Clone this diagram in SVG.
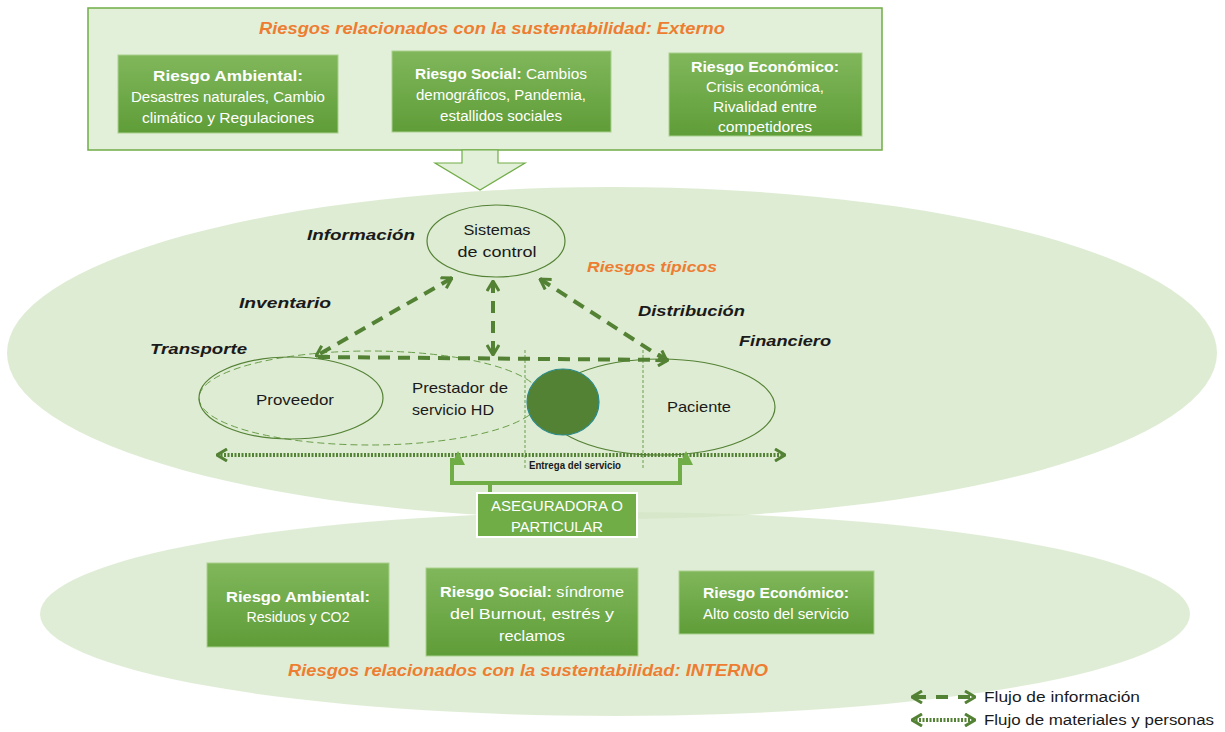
<svg xmlns="http://www.w3.org/2000/svg" width="1225" height="732" viewBox="0 0 1225 732">
<style>
text{font-family:"Liberation Sans",Arial,sans-serif}
.title{font-size:16px;font-weight:bold;font-style:italic;fill:#ed7d31}
.bt{font-size:14px;fill:#fff;text-anchor:middle}
.bb{font-weight:bold}
.lbl{font-size:15px;font-weight:bold;font-style:italic;fill:#1a1a1a}
.nt{font-size:15px;fill:#1a1a1a;text-anchor:middle}
.box{fill:url(#g);stroke:#a9d08e;stroke-width:1}
.info{fill:none;stroke:#548235;stroke-width:4;stroke-dasharray:12 8}
.mat{fill:none;stroke:#548235;stroke-width:4;stroke-dasharray:2 1.5}
.ring{fill:none;stroke:#548235;stroke-width:1.2}
</style>
<defs>
<linearGradient id="g" x1="0" y1="0" x2="0" y2="1">
<stop offset="0" stop-color="#80b75b"/>
<stop offset="1" stop-color="#5f9d38"/>
</linearGradient>
<marker id="ch" viewBox="0 0 12 14" refX="11" refY="7" markerWidth="12" markerHeight="14" markerUnits="userSpaceOnUse" orient="auto-start-reverse">
<path d="M1,1 L11,7 L1,13" fill="none" stroke="#548235" stroke-width="3"/>
</marker>
<marker id="up" viewBox="0 0 14 14" refX="7" refY="1" markerWidth="14" markerHeight="14" markerUnits="userSpaceOnUse" orient="auto">
<path d="M0,0 L14,7 L0,14 Z" fill="#70ad47"/>
</marker>
</defs>
<rect width="1225" height="732" fill="#fff"/>

<g id="externo">
<rect x="88" y="8" width="794" height="142" fill="#e2efd9" stroke="#70ad47" stroke-width="1.5"/>
<text class="title" x="492" y="34" text-anchor="middle" textLength="466" lengthAdjust="spacingAndGlyphs">Riesgos relacionados con la sustentabilidad: Externo</text>
</g>
<g id="ext-ambiental">
<rect class="box" x="118" y="55" width="220" height="78"/>
<text class="bt bb" x="228" y="81" textLength="150" lengthAdjust="spacingAndGlyphs">Riesgo Ambiental:</text>
<text class="bt" x="228" y="102" textLength="194" lengthAdjust="spacingAndGlyphs">Desastres naturales, Cambio</text>
<text class="bt" x="228" y="123" textLength="172" lengthAdjust="spacingAndGlyphs">climático y Regulaciones</text>
</g>
<g id="ext-social">
<rect class="box" x="392" y="51" width="219" height="81"/>
<text class="bt" x="501" y="79" textLength="172" lengthAdjust="spacingAndGlyphs"><tspan class="bb">Riesgo Social:</tspan> Cambios</text>
<text class="bt" x="501" y="100" textLength="170" lengthAdjust="spacingAndGlyphs">demográficos, Pandemia,</text>
<text class="bt" x="501" y="121" textLength="122" lengthAdjust="spacingAndGlyphs">estallidos sociales</text>
</g>
<g id="ext-economico">
<rect class="box" x="669" y="53" width="193" height="83"/>
<text class="bt bb" x="765" y="72" textLength="148" lengthAdjust="spacingAndGlyphs">Riesgo Económico:</text>
<text class="bt" x="765" y="92" textLength="118" lengthAdjust="spacingAndGlyphs">Crisis económica,</text>
<text class="bt" x="765" y="112" textLength="104" lengthAdjust="spacingAndGlyphs">Rivalidad entre</text>
<text class="bt" x="765" y="132" textLength="94" lengthAdjust="spacingAndGlyphs">competidores</text>
</g>
<g id="down-arrow">
<path d="M462,150 L498,150 L498,163 L525,163 L480,190 L435,163 L462,163 Z" fill="#e2efd9" stroke="#70ad47" stroke-width="1.2"/>
</g>

<g id="interno-ellipse">
<ellipse cx="615" cy="614" rx="575" ry="102" fill="#d3e6c4" fill-opacity="0.7"/>
</g>
<g id="tipicos-ellipse">
<ellipse cx="612" cy="353" rx="605" ry="166" fill="#d3e6c4" fill-opacity="0.75"/>
</g>

<g id="labels">
<text class="lbl" x="307" y="240" textLength="108" lengthAdjust="spacingAndGlyphs">Información</text>
<text class="lbl" x="239" y="308" textLength="92" lengthAdjust="spacingAndGlyphs">Inventario</text>
<text class="lbl" x="150" y="354" textLength="97" lengthAdjust="spacingAndGlyphs">Transporte</text>
<text class="lbl" x="638" y="316" textLength="107" lengthAdjust="spacingAndGlyphs">Distribución</text>
<text class="lbl" x="739" y="346" textLength="92" lengthAdjust="spacingAndGlyphs">Financiero</text>
<text class="lbl" x="587" y="272" style="fill:#ed7d31" textLength="130" lengthAdjust="spacingAndGlyphs">Riesgos típicos</text>
</g>

<g id="sistemas">
<ellipse cx="496" cy="241" rx="69" ry="36" class="ring" fill="none"/>
<text class="nt" x="497" y="235" textLength="67" lengthAdjust="spacingAndGlyphs">Sistemas</text>
<text class="nt" x="497" y="257" textLength="79" lengthAdjust="spacingAndGlyphs">de control</text>
</g>
<g id="prestador">
<ellipse cx="370" cy="398" rx="171" ry="47" fill="none" stroke="#6a9e4a" stroke-width="1" stroke-dasharray="7 4"/>
<text class="nt" x="460" y="393" textLength="96" lengthAdjust="spacingAndGlyphs">Prestador de</text>
<text class="nt" x="453" y="415" textLength="82" lengthAdjust="spacingAndGlyphs">servicio HD</text>
</g>
<g id="proveedor">
<ellipse cx="291" cy="398" rx="92" ry="41" class="ring"/>
<text class="nt" x="295" y="405" textLength="78" lengthAdjust="spacingAndGlyphs">Proveedor</text>
</g>
<g id="paciente">
<ellipse cx="660" cy="407" rx="115" ry="48" class="ring"/>
<text class="nt" x="699" y="412" textLength="64" lengthAdjust="spacingAndGlyphs">Paciente</text>
</g>
<g id="entrega">
<line x1="525" y1="350" x2="525" y2="470" stroke="#6a9e4a" stroke-width="1" stroke-dasharray="3 2"/>
<line x1="643" y1="350" x2="643" y2="470" stroke="#6a9e4a" stroke-width="1" stroke-dasharray="3 2"/>
<ellipse cx="563" cy="402" rx="36" ry="33" fill="#548235" stroke="#2a8a8a" stroke-width="1.2"/>
<text x="575" y="469" text-anchor="middle" font-size="10" font-weight="bold" fill="#1a1a1a" textLength="92" lengthAdjust="spacingAndGlyphs">Entrega del servicio</text>
</g>

<g id="connectors">
<line class="info" x1="452" y1="278" x2="316" y2="356" marker-start="url(#ch)" marker-end="url(#ch)"/>
<line class="info" x1="493" y1="281" x2="493" y2="355" marker-start="url(#ch)" marker-end="url(#ch)"/>
<line class="info" x1="540" y1="279" x2="667" y2="361" marker-start="url(#ch)" marker-end="url(#ch)"/>
<line class="info" x1="318" y1="357" x2="668" y2="360" marker-end="url(#ch)"/>
<line class="mat" x1="217" y1="455" x2="785" y2="455" marker-start="url(#ch)" marker-end="url(#ch)"/>
<polyline points="490,493 490,483 452,483 452,458" fill="none" stroke="#70ad47" stroke-width="4" marker-end="url(#up)"/>
<polyline points="490,483 680,483 680,458" fill="none" stroke="#70ad47" stroke-width="4" marker-end="url(#up)"/>
</g>

<g id="aseguradora">
<rect x="477" y="493" width="160" height="44" fill="#70ad47" stroke="#fff" stroke-width="2"/>
<text class="bt" x="557" y="511" font-size="14" textLength="132" lengthAdjust="spacingAndGlyphs">ASEGURADORA O</text>
<text class="bt" x="557" y="532" font-size="14" textLength="92" lengthAdjust="spacingAndGlyphs">PARTICULAR</text>
</g>

<g id="int-ambiental">
<rect class="box" x="207" y="563" width="182" height="84"/>
<text class="bt bb" x="298" y="602" textLength="144" lengthAdjust="spacingAndGlyphs">Riesgo Ambiental:</text>
<text class="bt" x="298" y="622" textLength="103" lengthAdjust="spacingAndGlyphs">Residuos y CO2</text>
</g>
<g id="int-social">
<rect class="box" x="426" y="568" width="212" height="88"/>
<text class="bt" x="532" y="597" textLength="184" lengthAdjust="spacingAndGlyphs"><tspan class="bb">Riesgo Social:</tspan> síndrome</text>
<text class="bt" x="532" y="619" textLength="164" lengthAdjust="spacingAndGlyphs">del Burnout, estrés  y</text>
<text class="bt" x="532" y="641" textLength="66" lengthAdjust="spacingAndGlyphs">reclamos</text>
</g>
<g id="int-economico">
<rect class="box" x="679" y="571" width="195" height="63"/>
<text class="bt bb" x="776" y="598" textLength="146" lengthAdjust="spacingAndGlyphs">Riesgo Económico:</text>
<text class="bt" x="776" y="619" textLength="146" lengthAdjust="spacingAndGlyphs">Alto costo del servicio</text>
</g>
<g id="interno-title">
<text class="title" x="528" y="676" text-anchor="middle" textLength="480" lengthAdjust="spacingAndGlyphs">Riesgos relacionados con la sustentabilidad: INTERNO</text>
</g>

<g id="legend">
<line x1="912" y1="697" x2="975" y2="697" stroke="#548235" stroke-width="4" stroke-dasharray="12 10" stroke-dashoffset="-2" marker-start="url(#ch)" marker-end="url(#ch)"/>
<line x1="912" y1="720" x2="975" y2="720" class="mat" marker-start="url(#ch)" marker-end="url(#ch)"/>
<text x="984" y="702" font-size="14" fill="#1a1a1a" textLength="156" lengthAdjust="spacingAndGlyphs">Flujo de información</text>
<text x="984" y="725" font-size="14" fill="#1a1a1a" textLength="230" lengthAdjust="spacingAndGlyphs">Flujo de materiales y personas</text>
</g>
</svg>
